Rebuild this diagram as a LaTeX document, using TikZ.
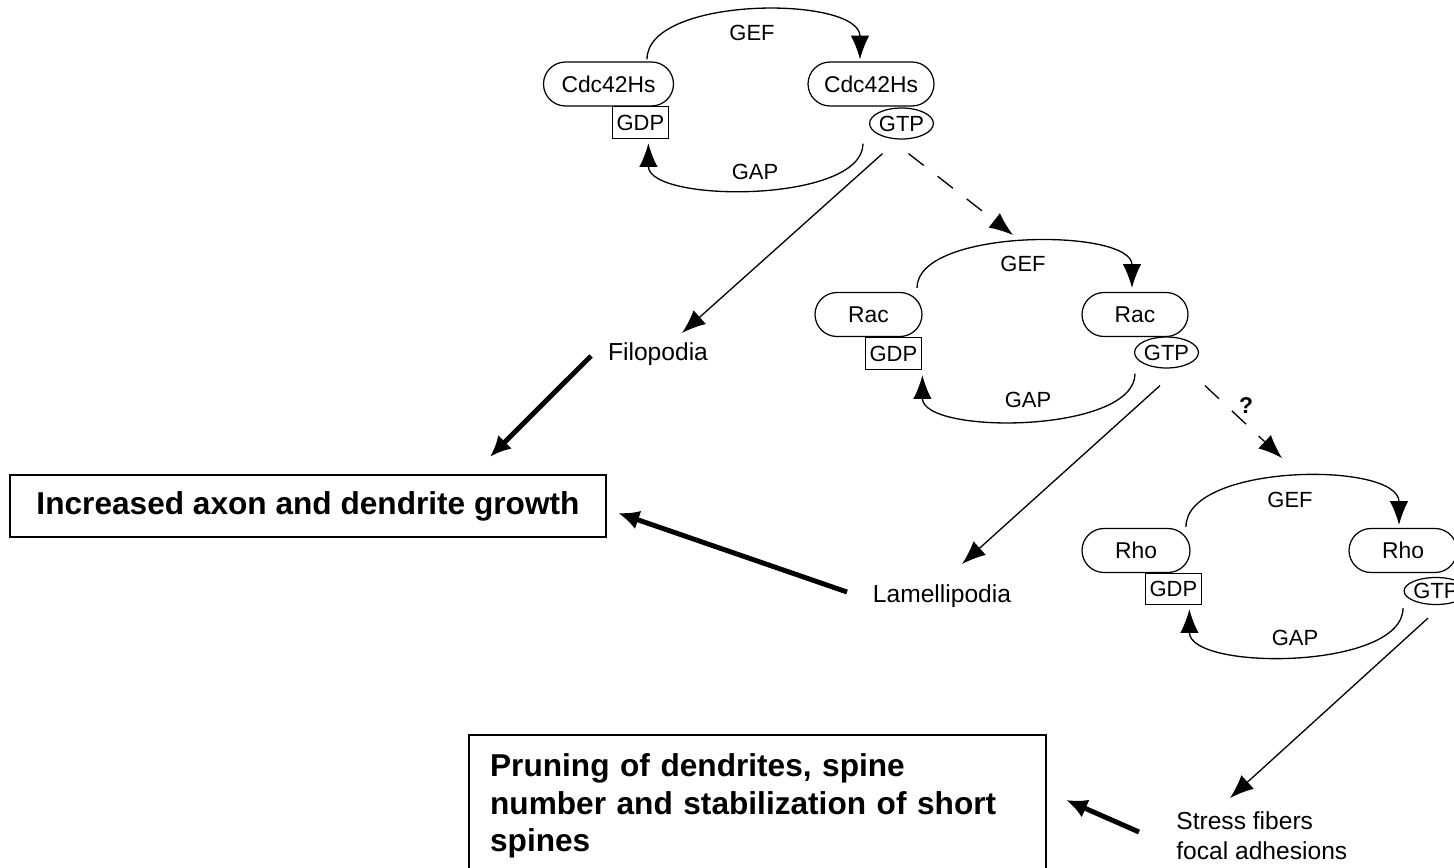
\documentclass[tikz,border=0pt]{standalone}
\usepackage{fontspec}
\setmainfont{Liberation Sans}
\usetikzlibrary{shapes.misc,shapes.geometric,arrows.meta}

\tikzset{
    pill/.style={rounded rectangle,draw,line width=0.7pt,minimum height=0.88cm,inner sep=0pt,font=\fontsize{13}{15}\selectfont},
    gdpbox/.style={rectangle,draw,fill=white,line width=0.7pt,minimum width=1.12cm,minimum height=0.64cm,inner sep=0pt,font=\fontsize{12.5}{15}\selectfont},
    gtpoval/.style={ellipse,draw,fill=white,line width=0.7pt,minimum width=1.26cm,minimum height=0.62cm,inner sep=0pt,font=\fontsize{12.5}{15}\selectfont},
    cyclabel/.style={inner sep=1pt,font=\fontsize{12.5}{15}\selectfont},
    outlabel/.style={inner sep=0pt,font=\fontsize{14}{17}\selectfont},
    resultbox/.style={draw,line width=1.3pt,font=\bfseries\fontsize{18}{21.6}\selectfont},
    flow/.style={-{Latex[length=13.5pt,width=10.5pt]},line width=0.75pt},
    dashflow/.style={flow,dash pattern=on 11pt off 10pt},
    bigarrow/.style={-{Latex[length=12pt,width=11pt]},line width=2.8pt}
}

\begin{document}
\begin{tikzpicture}[x=0.02cm,y=-0.02cm]
        \useasboundingbox (0,0) rectangle (1454,868);
        \clip (0,0) rectangle (1454,868);

        \node[pill,minimum width=2.6cm]  (cdcoff) at (608.5,84) {Cdc42Hs};
        \node[pill,minimum width=2.52cm] (cdcon)  at (871,84)   {Cdc42Hs};
        \node[gdpbox,anchor=north east]  (cdcgdp) at (669,106)  {GDP};
        \node[gtpoval]                   (cdcgtp) at (901.5,123.5) {GTP};
        \node[cyclabel] (cdcgef) at (752,33)  {GEF};
        \node[cyclabel] (cdcgap) at (755,172) {GAP};

        \node[pill,minimum width=2.14cm] (racoff) at (868.5,314.5) {Rac};
        \node[pill,minimum width=2.12cm] (racon)  at (1135,314.5)  {Rac};
        \node[gdpbox,anchor=north east]  (racgdp) at (922,337)     {GDP};
        \node[gtpoval]                   (racgtp) at (1166.5,352.5) {GTP};
        \node[cyclabel] (racgef) at (1023,264) {GEF};
        \node[cyclabel] (racgap) at (1028,400) {GAP};

        \node[pill,minimum width=2.16cm] (rhooff) at (1136,550.5) {Rho};
        \node[pill,minimum width=2.16cm] (rhoon)  at (1403,550.5) {Rho};
        \node[gdpbox,anchor=north east,minimum height=0.62cm] (rhogdp) at (1202,573) {GDP};
        \node[gtpoval,minimum height=0.54cm] (rhogtp) at (1436,591) {GTP};
        \node[cyclabel] (rhogef) at (1290,500) {GEF};
        \node[cyclabel] (rhogap) at (1295,638) {GAP};
        \node[cyclabel,font=\bfseries\fontsize{13}{15}\selectfont] (qmark) at (1246,406) {?};

        \node[outlabel,anchor=base] (filo)  at (658,360) {Filopodia};
        \node[outlabel,anchor=base] (lamel) at (942,602) {Lamellipodia};
        \node[outlabel,anchor=north west,align=left] (stress) at (1176,811) {Stress fibers\\focal adhesions};

        \node[resultbox,minimum width=11.92cm,minimum height=1.24cm] (growth) at (308,506) {Increased axon and dendrite growth};
        \node[resultbox,anchor=north west,text width=10.7cm,align=left,inner xsep=0.42cm,inner ysep=0.36cm] (prune) at (468,734)
            {Pruning of dendrites, spine\\number and stabilization of short\\spines\rule[-30pt]{0pt}{30pt}};

        \draw[flow] ([xshift=0.77cm,yshift=0.04cm]cdcoff.north) .. controls +(0,-64) and +(0,-64) .. ([xshift=-0.22cm,yshift=0.04cm]cdcon.north);
        \draw[flow] ([xshift=-0.77cm,yshift=-0.08cm]cdcgtp.south) .. controls +(0,60) and +(0,60) .. ([xshift=0.16cm,yshift=-0.08cm]cdcgdp.south);
        \draw[flow] ([xshift=0.97cm,yshift=0.08cm]racoff.north) .. controls +(0,-60) and +(0,-60) .. ([xshift=-0.06cm,yshift=0.08cm]racon.north);
        \draw[flow] ([xshift=-0.63cm,yshift=-0.1cm]racgtp.south) .. controls +(0,60) and +(0,60) .. ([xshift=0.58cm,yshift=-0.1cm]racgdp.south);
        \draw[flow] ([xshift=1cm,yshift=0.02cm]rhooff.north) .. controls +(0,-64) and +(0,-64) .. ([xshift=-0.08cm,yshift=0.06cm]rhoon.north);
        \draw[flow] ([xshift=-0.66cm,yshift=-0.06cm]rhogtp.south) .. controls +(0,62) and +(0,62) .. ([xshift=0.32cm,yshift=-0.08cm]rhogdp.south);

        \draw[dashflow] ([xshift=0.14cm,yshift=-0.28cm]cdcgtp.south) -- ([xshift=-0.2cm,yshift=0.58cm]racgef.center);
        \draw[dashflow] ([xshift=0.77cm,yshift=-0.34cm]racgtp.south) -- ([xshift=-0.16cm,yshift=0.84cm]rhogef.center);

        \draw[flow] ([xshift=-0.38cm,yshift=-0.28cm]cdcgtp.south) -- ([xshift=0.48cm,yshift=0.54cm]filo.base);
        \draw[flow] ([xshift=-0.13cm,yshift=-0.34cm]racgtp.south) -- ([xshift=0.4cm,yshift=0.76cm]lamel.base);
        \draw[flow] ([xshift=-0.16cm,yshift=-0.26cm]rhogtp.south) -- ([xshift=1.08cm,yshift=0.26cm]stress.north west);

        \draw[bigarrow] ([xshift=-1.34cm,yshift=0.08cm]filo.base) -- ([xshift=3.64cm,yshift=0.34cm]growth.north);
        \draw[bigarrow] ([xshift=-1.9cm,yshift=0.2cm]lamel.base) -- ([xshift=0.22cm,yshift=-0.14cm]growth.east);
        \draw[bigarrow] ([xshift=-0.74cm,yshift=-0.42cm]stress.north west) -- ([xshift=0.38cm,yshift=-1.32cm]prune.north east);
    \end{tikzpicture}
\end{document}
